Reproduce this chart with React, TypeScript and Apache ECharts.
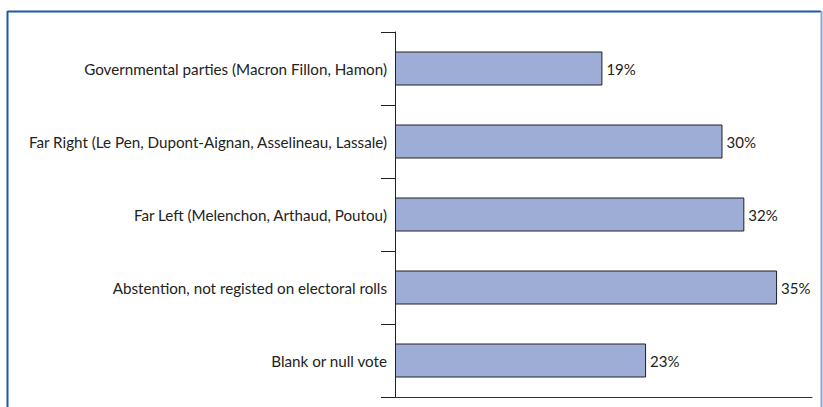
import React, { useEffect, useRef } from "react";
import * as echarts from "echarts";

const categories = [
  "Governmental parties (Macron Fillon, Hamon)",
  "Far Right (Le Pen, Dupont-Aignan, Asselineau, Lassale)",
  "Far Left (Melenchon, Arthaud, Poutou)",
  "Abstention, not registed on electoral rolls",
  "Blank or null vote",
];
const values = [19, 30, 32, 35, 23];

export default function App() {
  const ref = useRef<HTMLDivElement>(null);
  useEffect(() => {
    document.body.style.margin = "0";
    const chart = echarts.init(ref.current!, null, { renderer: "svg" });
    const font = "Lato";
    chart.setOption({
      animation: false,
      backgroundColor: "#ffffff",
      graphic: [
        {
          type: "line",
          shape: { x1: 7.5, y1: 11.5, x2: 821, y2: 11.5 },
          style: { stroke: "#1f5c9e", lineWidth: 2 },
          silent: true,
        },
        {
          type: "line",
          shape: { x1: 7.5, y1: 11, x2: 7.5, y2: 410 },
          style: { stroke: "#1f5c9e", lineWidth: 2 },
          silent: true,
        },
        {
          type: "line",
          shape: { x1: 821.5, y1: 11, x2: 821.5, y2: 410 },
          style: { stroke: "#86a9d6", lineWidth: 2 },
          silent: true,
        },
      ],
      grid: { left: 395, right: 11, top: 32, bottom: 10, containLabel: false },
      xAxis: {
        type: "value",
        min: 0,
        max: 38.2,
        axisLine: { show: true, lineStyle: { color: "#333", width: 1 } },
        axisTick: { show: false },
        axisLabel: { show: false },
        splitLine: { show: false },
      },
      yAxis: {
        type: "category",
        data: categories,
        inverse: true,
        axisLine: { show: true, lineStyle: { color: "#222", width: 1 } },
        axisTick: { show: true, length: 14, inside: false, alignWithLabel: false, lineStyle: { color: "#222" } },
        axisLabel: { margin: 8, color: "#222", fontFamily: font, fontSize: 15.2 },
        splitLine: { show: false },
      },
      series: [
        {
          type: "bar",
          data: values,
          barWidth: 34,
          itemStyle: { color: "#9dadd6", borderColor: "#222", borderWidth: 1 },
          label: {
            show: true,
            position: "right",
            distance: 4,
            formatter: "{c}%",
            color: "#222",
            fontFamily: font,
            fontSize: 15,
          },
        },
      ],
    });
    return () => chart.dispose();
  }, []);
  return <div ref={ref} style={{ width: 823, height: 407 }} />;
}
